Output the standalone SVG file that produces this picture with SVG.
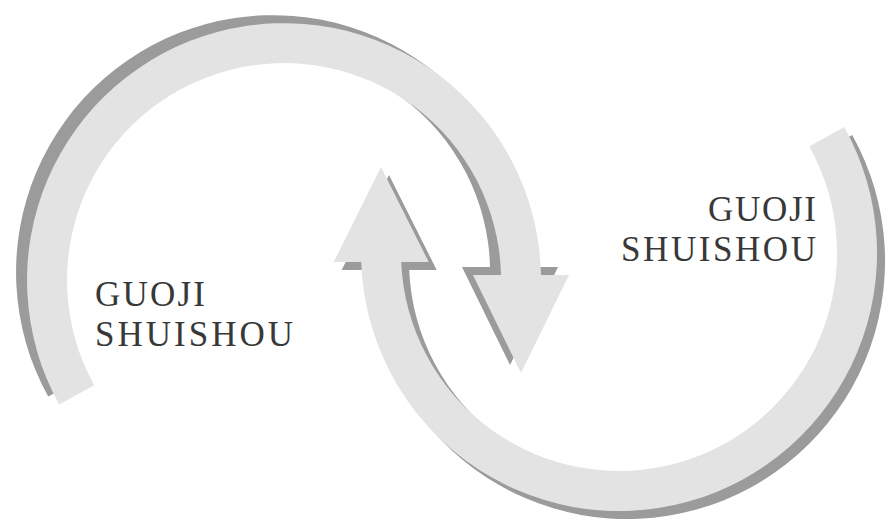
<svg xmlns="http://www.w3.org/2000/svg" xmlns:xlink="http://www.w3.org/1999/xlink" width="896" height="525" viewBox="0 0 896 525">
  <style>
    .band { fill: #e3e3e3; }
    .shadow { fill: #9b9b9b; }
    .label { font-family: "Liberation Serif", "DejaVu Serif", serif; font-size: 35px; fill: #383838; }
  </style>
  <defs>
    <path id="arcLeft" d="M 59.2,404.6 A 257 257 0 1 1 541,275 L 569,275 L 521,373 L 473,275 L 501,275 A 217 217 0 1 0 94.2,385.2 Z"/>
    <path id="arcRight" d="M 844.2,127.1 A 258 258 0 1 1 361.2,262 L 333.7,262 L 381,167 L 428.7,262 L 401.2,262 A 218 218 0 1 0 809.3,146.6 Z"/>
  </defs>
  <rect width="896" height="525" fill="#ffffff"/>
  <g id="connectors">
    <g id="arrow-left">
      <use xlink:href="#arcLeft" class="shadow" transform="translate(-11,-8)"/>
      <use xlink:href="#arcLeft" class="band"/>
    </g>
    <g id="arrow-right">
      <use xlink:href="#arcRight" class="shadow" transform="translate(8,8)"/>
      <use xlink:href="#arcRight" class="band"/>
    </g>
  </g>
  <g id="node-left">
    <text class="label" x="95" y="306" textLength="110" lengthAdjust="spacing">GUOJI</text>
    <text class="label" x="95" y="346" textLength="198" lengthAdjust="spacing">SHUISHOU</text>
  </g>
  <g id="node-right">
    <text class="label" x="816" y="221" text-anchor="end" textLength="108" lengthAdjust="spacing">GUOJI</text>
    <text class="label" x="816" y="261" text-anchor="end" textLength="195" lengthAdjust="spacing">SHUISHOU</text>
  </g>
</svg>
